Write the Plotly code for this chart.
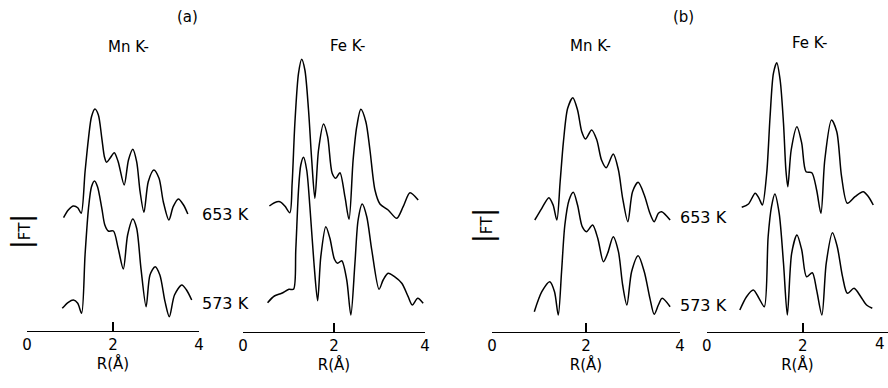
import plotly.graph_objects as go

# ---------------- data (R in Å, |FT| in arbitrary units) ----------------
OFFSET_653 = 90  # vertical shift of the 653 K curves above the 573 K curves

# (a) Mn K-edge
R_a_mn_653 = [0.85, 0.96, 1.08, 1.18, 1.26, 1.35, 1.43, 1.50, 1.58, 1.66, 1.74, 1.80, 1.85, 1.93, 2.03, 2.12,
              2.26, 2.36, 2.46, 2.55, 2.63, 2.72, 2.82, 2.95, 3.07, 3.17, 3.30, 3.40, 3.52, 3.64, 3.74]
FT_a_mn_653 = [23.3, 31, 35, 33.3, 27.7, 69.3, 102.7, 124.3, 132, 126, 102.7, 84.3, 78.7, 82.7, 88.3, 79.3,
               56, 81, 91.7, 79.3, 49.3, 28.7, 59.3, 71, 62.7, 39.3, 21, 34.3, 42, 36, 27]
R_a_mn_573 = [0.82, 0.96, 1.08, 1.18, 1.27, 1.35, 1.43, 1.50, 1.57, 1.64, 1.74, 1.81, 1.89, 2.01, 2.12, 2.24,
              2.34, 2.46, 2.55, 2.65, 2.77, 2.86, 2.98, 3.09, 3.21, 3.31, 3.43, 3.60, 3.71, 3.83]
FT_a_mn_573 = [22.7, 28.7, 31, 27.7, 17.7, 76, 122.7, 144.3, 150, 144.3, 122.7, 106, 100, 100, 82.7, 62,
               96, 112, 102.7, 62.7, 24.3, 56, 64.3, 56, 29.3, 14.3, 36, 46, 41, 31]

# (a) Fe K-edge
R_a_fe_653 = [0.58, 0.69, 0.81, 0.92, 1.03, 1.08, 1.14, 1.22, 1.29, 1.36, 1.44, 1.51, 1.58, 1.66, 1.77, 1.86,
              1.96, 2.04, 2.13, 2.24, 2.33, 2.42, 2.50, 2.59, 2.70, 2.79, 2.90, 3.01, 3.19, 3.38, 3.52, 3.67, 3.85]
FT_a_fe_653 = [36, 39.3, 40.3, 36, 29.3, 58.7, 118.7, 168.7, 182.7, 172, 132, 82, 43.7, 92, 118, 105.3,
               68.7, 63.7, 69.3, 45.3, 22.7, 82, 115.3, 132.7, 120.3, 92, 52, 38, 32, 23.7, 35.3, 49.3, 42]
R_a_fe_573 = [0.54, 0.69, 0.85, 1.01, 1.11, 1.16, 1.22, 1.27, 1.33, 1.40, 1.47, 1.56, 1.64, 1.71, 1.82, 1.91,
              2.01, 2.08, 2.17, 2.28, 2.37, 2.46, 2.53, 2.62, 2.72, 2.83, 2.99, 3.08, 3.19, 3.33, 3.49, 3.63,
              3.72, 3.84, 3.96]
FT_a_fe_573 = [29.3, 36, 38.7, 42.7, 42.7, 82, 142, 167, 174.7, 162, 125.3, 68.7, 31.3, 75.3, 105.3, 93.7,
               72.7, 68.7, 71.3, 52, 17, 68.7, 112, 128, 115.3, 82, 42.7, 52, 58.7, 55.3, 48.7, 35.3,
               27, 33.7, 28.7]

# (b) Mn K-edge
R_b_mn_653 = [0.91, 1.06, 1.21, 1.30, 1.38, 1.45, 1.52, 1.61, 1.72, 1.82, 1.91, 1.99, 2.12, 2.23, 2.33, 2.43,
              2.58, 2.69, 2.78, 2.89, 2.99, 3.11, 3.24, 3.36, 3.45, 3.54, 3.61, 3.79]
FT_b_mn_653 = [22, 33.7, 44.3, 37, 22, 60.3, 100.3, 133.7, 144.3, 132, 110.3, 103, 112, 102, 82, 74.3,
               88, 72, 43.7, 20.3, 50.3, 59.7, 47, 28.7, 20.3, 28.7, 30.3, 22]
R_b_mn_573 = [0.90, 1.06, 1.23, 1.33, 1.41, 1.48, 1.55, 1.64, 1.73, 1.82, 1.92, 2.01, 2.14, 2.25, 2.37, 2.46,
              2.58, 2.69, 2.78, 2.87, 2.97, 3.11, 3.24, 3.36, 3.45, 3.54, 3.62, 3.79]
FT_b_mn_573 = [20.3, 40.3, 50.3, 40.3, 17, 60.3, 107, 132, 139.7, 127, 105.3, 100.3, 107, 93.7, 70.3, 78.7,
               95.3, 80.3, 47, 27, 60.3, 76.3, 60.3, 33.7, 17.7, 27, 33.7, 25.3]

# (b) Fe K-edge
R_b_fe_653 = [0.73, 0.87, 1.01, 1.09, 1.16, 1.25, 1.32, 1.39, 1.46, 1.53, 1.60, 1.65, 1.69, 1.76, 1.88, 1.98,
              2.07, 2.19, 2.29, 2.38, 2.46, 2.60, 2.71, 2.81, 2.93, 3.09, 3.26, 3.37, 3.47]
FT_b_fe_653 = [34.7, 38, 48.7, 43.7, 37, 68.7, 125.3, 168.7, 179.3, 162, 118.7, 72, 55.3, 92, 115.3, 98.7,
               70.3, 69.3, 52, 28.7, 82, 122, 110.3, 65.3, 38.7, 45.3, 50.3, 45.3, 37]
R_b_fe_573 = [0.69, 0.83, 0.97, 1.09, 1.20, 1.28, 1.35, 1.42, 1.51, 1.60, 1.68, 1.77, 1.88, 1.98, 2.08, 2.20,
              2.29, 2.40, 2.49, 2.62, 2.72, 2.83, 2.93, 3.07, 3.21, 3.33, 3.45]
FT_b_fe_573 = [22, 35.3, 42, 33.7, 25.3, 95.3, 125.3, 138, 118.7, 68.7, 17, 78.7, 97, 82, 55.3, 59.3,
               42, 17, 68.7, 99.3, 85.3, 55.3, 38.7, 43.7, 35.3, 27, 23.7]

X_TICKS = [0, 2, 4]
X_TICK_LABELS = ["0", "2", "4"]
EDGE_LABELS = ["Mn K-", "Fe K-", "Mn K-", "Fe K-"]
PART_LABELS = ["(a)", "(b)"]
TEMP_LABELS = ["653 K", "573 K"]

# ---------------- figure ----------------
W, H = 888, 388
FONT = "DejaVu Sans"

panels = [
    dict(R653=R_a_mn_653, F653=FT_a_mn_653, R573=R_a_mn_573, F573=FT_a_mn_573,
         xdom=(27, 199), xr=(0, 4), base=331),
    dict(R653=R_a_fe_653, F653=FT_a_fe_653, R573=R_a_fe_573, F573=FT_a_fe_573,
         xdom=(243, 425), xr=(0, 4), base=332),
    dict(R653=R_b_mn_653, F653=FT_b_mn_653, R573=R_b_mn_573, F573=FT_b_mn_573,
         xdom=(492, 680), xr=(0, 4), base=332),
    dict(R653=R_b_fe_653, F653=FT_b_fe_653, R573=R_b_fe_573, F573=FT_b_fe_573,
         xdom=(706.7, 888), xr=(0, (888 - 706.7) / 48.0), base=332),
]

fig = go.Figure()
layout = dict(
    width=W, height=H, margin=dict(l=0, r=0, t=0, b=0),
    paper_bgcolor="white", plot_bgcolor="rgba(0,0,0,0)", showlegend=False,
    font=dict(family=FONT, color="black", size=15),
)

for i, p in enumerate(panels, start=1):
    xa = "x" if i == 1 else f"x{i}"
    ya = "y" if i == 1 else f"y{i}"
    line = dict(color="black", width=1.5, shape="spline", smoothing=0.8)
    fig.add_trace(go.Scatter(x=p["R573"], y=p["F573"], mode="lines", line=line,
                             xaxis=xa, yaxis=ya, hoverinfo="skip"))
    fig.add_trace(go.Scatter(x=p["R653"], y=[v + OFFSET_653 for v in p["F653"]], mode="lines",
                             line=line, xaxis=xa, yaxis=ya, hoverinfo="skip"))
    ybot = 1 - p["base"] / H
    layout[f"xaxis{i if i > 1 else ''}"] = dict(
        domain=[p["xdom"][0] / W, min(1.0, p["xdom"][1] / W)], range=list(p["xr"]),
        anchor=ya, showline=True, linecolor="black", linewidth=1.4,
        ticks="inside", ticklen=9, tickwidth=1.6, tickcolor="black",
        tickvals=X_TICKS, ticktext=X_TICK_LABELS, tickfont=dict(size=15, family=FONT),
        showgrid=False, zeroline=False, automargin=False, fixedrange=True,
        title=dict(text="R(Å)", font=dict(size=15, family=FONT), standoff=4),
    )
    layout[f"yaxis{i if i > 1 else ''}"] = dict(
        domain=[ybot, 1], range=[0, p["base"]], anchor=xa, visible=False, fixedrange=True,
    )

ann = []
def px_ann(text, x, y, size=15, xanchor="center", **kw):
    ann.append(dict(text=text, x=x / W, y=1 - y / H, xref="paper", yref="paper",
                    xanchor=xanchor, yanchor="middle",
                    showarrow=False, font=dict(size=size, family=FONT, color="black"), **kw))

px_ann(PART_LABELS[0], 187, 17)
px_ann(PART_LABELS[1], 683, 17)
for lab, (x, y) in zip(EDGE_LABELS, [(128, 47), (347, 46), (590, 46), (809, 43)]):
    px_ann(lab, x, y, size=15)
px_ann(TEMP_LABELS[0], 251, 214, size=16, xanchor="right")
px_ann(TEMP_LABELS[1], 251, 303, size=16, xanchor="right")
px_ann(TEMP_LABELS[0], 729, 217, size=16, xanchor="right")
px_ann(TEMP_LABELS[1], 729, 305, size=16, xanchor="right")
ft = '<span style="font-size:26px">|</span>FT<span style="font-size:26px">|</span>'
px_ann(ft, 21, 232, size=15, textangle=-90)
px_ann(ft, 483, 226, size=15, textangle=-90)
# tick label "4" of the last panel sits at the right edge of the page
px_ann(X_TICK_LABELS[2], 887, 344, size=15, xanchor="right")

layout["annotations"] = ann
fig.update_layout(**layout)
fig.write_html("out.html", config={"displayModeBar": False},
               post_script=["document.body.style.margin='0px';"])
